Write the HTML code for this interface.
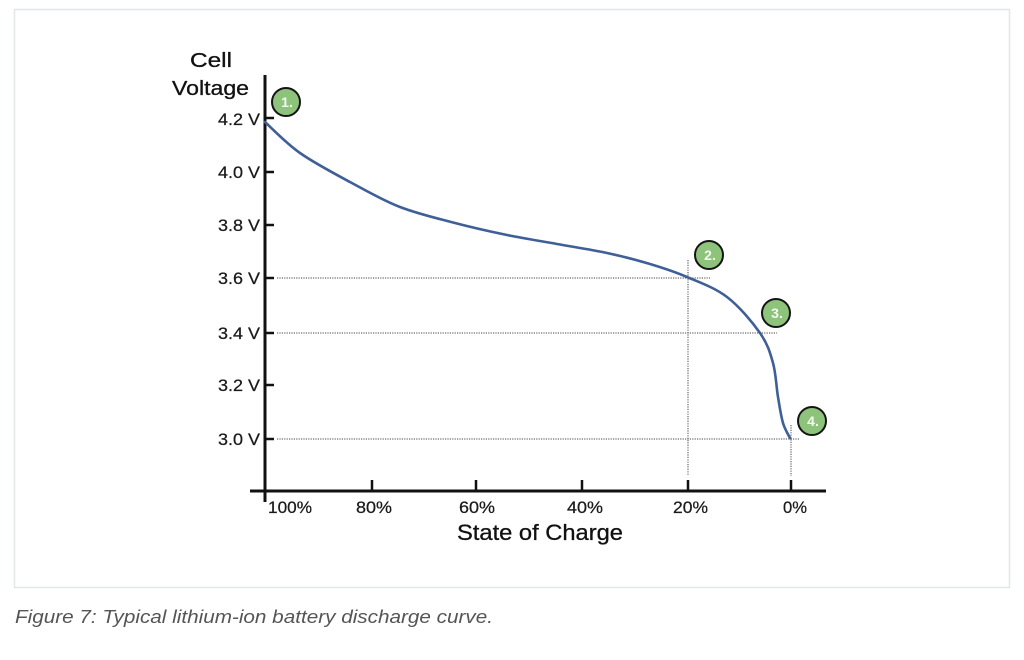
<!DOCTYPE html>
<html><head><meta charset="utf-8"><style>
html,body{margin:0;padding:0;background:#fff;}
svg{display:block;}
text{font-family:"Liberation Sans",Arial,sans-serif;}
</style></head><body>
<svg width="1024" height="660" viewBox="0 0 1024 660" xmlns="http://www.w3.org/2000/svg">
<rect x="0" y="0" width="1024" height="660" fill="#fff"/>
<rect x="14.5" y="9.5" width="995" height="578" fill="#fff" stroke="#e1e7e9" stroke-width="1.5"/>

<!-- axis titles -->
<g stroke="#111" stroke-width="0.3">
<text x="211" y="67" font-size="20" text-anchor="middle" fill="#111" textLength="42" lengthAdjust="spacingAndGlyphs">Cell</text>
<text x="210.5" y="95" font-size="20" text-anchor="middle" fill="#111" textLength="77" lengthAdjust="spacingAndGlyphs">Voltage</text>
<text x="540" y="540" font-size="22" text-anchor="middle" fill="#111" textLength="166" lengthAdjust="spacingAndGlyphs">State of Charge</text>
</g>

<!-- dotted guide lines -->
<g stroke="#444" stroke-width="1" stroke-dasharray="1.2 1.2" fill="none">
<line x1="277" y1="278" x2="710" y2="278"/>
<line x1="277" y1="333" x2="777" y2="333"/>
<line x1="277" y1="439" x2="800" y2="439"/>
<line x1="688" y1="260" x2="688" y2="476"/>
<line x1="791" y1="425" x2="791" y2="476"/>
</g>

<!-- axes -->
<g stroke="#111" fill="none">
<line x1="265" y1="75" x2="265" y2="502" stroke-width="3"/>
<line x1="250" y1="491" x2="826" y2="491" stroke-width="3"/>
<g stroke-width="2.5">
<line x1="265" y1="118" x2="274" y2="118"/>
<line x1="265" y1="172" x2="274" y2="172"/>
<line x1="265" y1="225" x2="274" y2="225"/>
<line x1="265" y1="278" x2="274" y2="278"/>
<line x1="265" y1="333" x2="274" y2="333"/>
<line x1="265" y1="385" x2="274" y2="385"/>
<line x1="265" y1="439" x2="274" y2="439"/>
<line x1="372" y1="480" x2="372" y2="491"/>
<line x1="476" y1="480" x2="476" y2="491"/>
<line x1="582" y1="480" x2="582" y2="491"/>
<line x1="688" y1="480" x2="688" y2="491"/>
<line x1="791" y1="480" x2="791" y2="491"/>
</g>
</g>

<!-- y tick labels -->
<g font-size="17" fill="#1a1a1a" text-anchor="end" stroke="#1a1a1a" stroke-width="0.25">
<text x="260" y="125" textLength="42" lengthAdjust="spacingAndGlyphs">4.2 V</text>
<text x="260" y="178" textLength="42" lengthAdjust="spacingAndGlyphs">4.0 V</text>
<text x="260" y="231" textLength="42" lengthAdjust="spacingAndGlyphs">3.8 V</text>
<text x="260" y="284" textLength="42" lengthAdjust="spacingAndGlyphs">3.6 V</text>
<text x="260" y="339" textLength="42" lengthAdjust="spacingAndGlyphs">3.4 V</text>
<text x="260" y="391" textLength="42" lengthAdjust="spacingAndGlyphs">3.2 V</text>
<text x="260" y="445" textLength="42" lengthAdjust="spacingAndGlyphs">3.0 V</text>
</g>

<!-- x tick labels -->
<g font-size="17" fill="#1a1a1a" stroke="#1a1a1a" stroke-width="0.25">
<text x="268" y="513" textLength="44" lengthAdjust="spacingAndGlyphs">100%</text>
<text x="356" y="513" textLength="36" lengthAdjust="spacingAndGlyphs">80%</text>
<text x="459" y="513" textLength="36" lengthAdjust="spacingAndGlyphs">60%</text>
<text x="567" y="513" textLength="36" lengthAdjust="spacingAndGlyphs">40%</text>
<text x="673" y="513" textLength="35" lengthAdjust="spacingAndGlyphs">20%</text>
<text x="783" y="513" textLength="24" lengthAdjust="spacingAndGlyphs">0%</text>
</g>

<!-- discharge curve -->
<path fill="none" stroke="#3f5f97" stroke-width="2.6" stroke-linecap="round" d="M265,122 C270.8,127.2 285.8,143 300,153 C314.2,163 333.3,173 350,182 C366.7,191 382.5,200.2 400,207 C417.5,213.8 437.2,218.3 455,223 C472.8,227.7 490,231.5 507,235 C524,238.5 540.3,241 557,244 C573.7,247 591.5,249.7 607,253 C622.5,256.3 636.7,260 650,264 C663.3,268 674.2,271.5 687,277 C699.8,282.5 714.8,287.7 727,297 C739.2,306.3 752.3,322 760,333 C767.7,344 770,352.3 773,363 C776,373.7 776.3,387 778,397 C779.7,407 781,416.2 783,423 C785,429.8 788.8,435.5 790,438"/>

<!-- numbered markers -->
<g stroke="#141414" stroke-width="2" fill="#8ec37c">
<circle cx="286" cy="102" r="14"/>
<circle cx="709" cy="255" r="14"/>
<circle cx="776" cy="313" r="14"/>
<circle cx="812" cy="421" r="14"/>
</g>
<g font-size="14" fill="#f4f8f0" text-anchor="middle" font-weight="bold">
<text x="287" y="107">1.</text>
<text x="710" y="260">2.</text>
<text x="777" y="318">3.</text>
<text x="813" y="426">4.</text>
</g>

<!-- caption -->
<text x="15" y="623" font-size="18" font-style="italic" fill="#555" textLength="478" lengthAdjust="spacingAndGlyphs">Figure 7: Typical lithium-ion battery discharge curve.</text>
</svg>
</body></html>
